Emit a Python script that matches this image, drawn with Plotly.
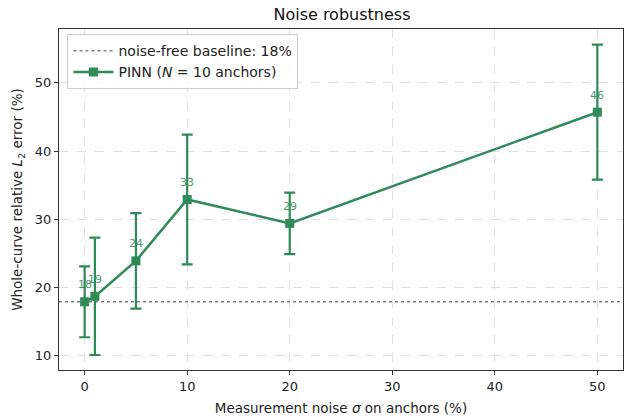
import plotly.graph_objects as go

noise = [0, 1, 5, 10, 20, 50]
err_mean = [17.9, 18.7, 23.9, 32.9, 29.4, 45.7]
err_std = [5.2, 8.6, 7.0, 9.5, 4.5, 9.9]
labels = ["18", "19", "24", "33", "29", "46"]
baseline = 17.9
green = "#2e8b57"
font = "DejaVu Sans, sans-serif"

fig = go.Figure()
fig.add_trace(go.Scatter(
    x=[-2.5, 52.5], y=[baseline, baseline], mode="lines",
    line=dict(color="#808080", width=1.6, dash="dot"),
    name="noise-free baseline: 18%"))
fig.add_trace(go.Scatter(
    x=noise, y=err_mean, mode="lines+markers",
    line=dict(color=green, width=2.5),
    marker=dict(symbol="square", size=9, color=green),
    error_y=dict(type="data", array=err_std, visible=True, color=green, thickness=2.2, width=5.5),
    name="PINN (<i>N</i> = 10 anchors)"))

for x, y, t in zip(noise, err_mean, labels):
    fig.add_annotation(x=x, y=y, text=t, showarrow=False, yshift=17,
                       font=dict(color=green, size=11, family=font), opacity=0.85)

axis_common = dict(showline=True, mirror=True, linecolor="#333", linewidth=1.4,
                   ticks="outside", ticklen=4, tickcolor="#333",
                   showgrid=True, gridcolor="#e0e0e0", griddash="dash", gridwidth=1,
                   zeroline=False, tickfont=dict(size=13, color="#222", family=font))

fig.update_layout(
    width=624, height=417,
    margin=dict(l=59, r=1, t=29, b=47),
    plot_bgcolor="white", paper_bgcolor="white",
    font=dict(family=font, color="#222"),
    title=dict(text="Noise robustness", x=0.548, xanchor="center", y=0.966, yanchor="middle",
               font=dict(size=16, family=font, color="#111")),
    xaxis=dict(range=[-2.5, 52.5], tickvals=[0, 10, 20, 30, 40, 50],
               title=dict(text="Measurement noise <i>σ</i> on anchors (%)", standoff=10,
                          font=dict(size=13.5, family=font)),
               **axis_common),
    yaxis=dict(range=[7.9, 57.9], tickvals=[10, 20, 30, 40, 50],
               title=dict(text="Whole-curve relative <i>L</i><sub>2</sub> error (%)", standoff=8,
                          font=dict(size=13.5, family=font)),
               **axis_common),
    legend=dict(x=0.015, y=0.985, xanchor="left", yanchor="top",
                bgcolor="rgba(255,255,255,0.85)", bordercolor="#ccc", borderwidth=1,
                font=dict(size=14, family=font), tracegroupgap=0, itemwidth=40),
    showlegend=True,
)

fig.write_html("out.html")
